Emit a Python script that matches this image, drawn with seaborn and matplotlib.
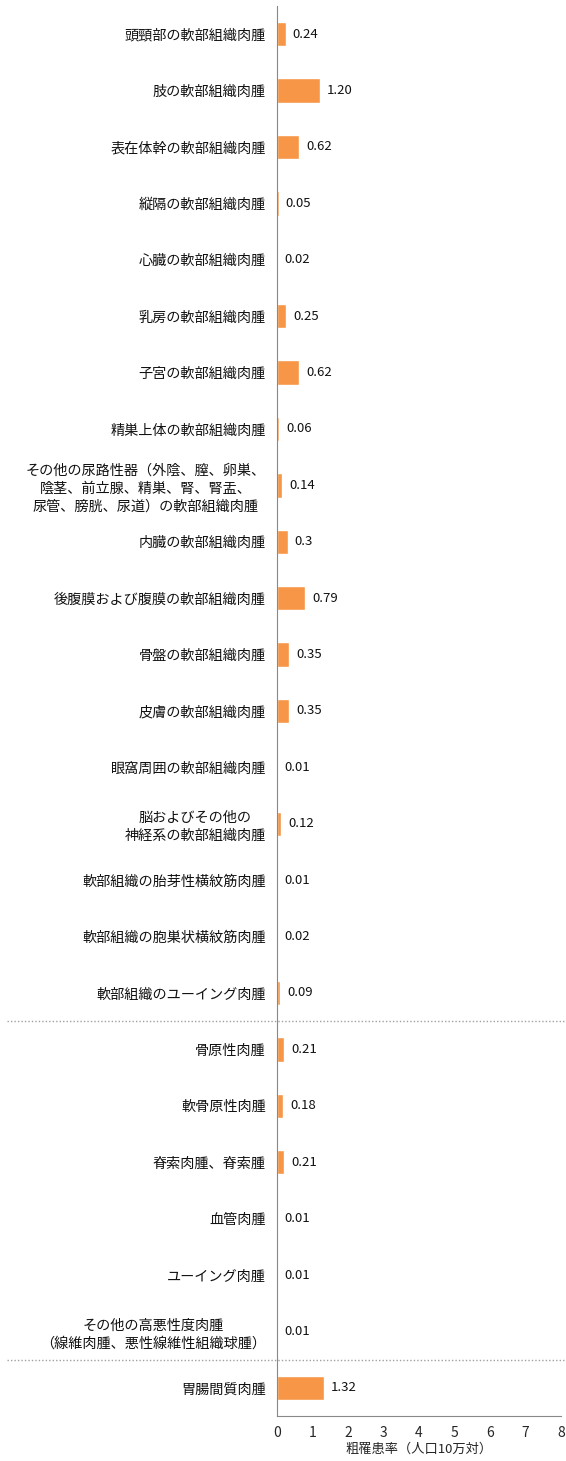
import numpy as np
import pandas as pd
import matplotlib
matplotlib.use('Agg')
import matplotlib.pyplot as plt
import seaborn as sns

categories = [
    '頭頸部の軟部組織肉腫',
    '肢の軟部組織肉腫',
    '表在体幹の軟部組織肉腫',
    '縦隔の軟部組織肉腫',
    '心臓の軟部組織肉腫',
    '乳房の軟部組織肉腫',
    '子宮の軟部組織肉腫',
    '精巣上体の軟部組織肉腫',
    'その他の尿路性器（外陰、膣、卵巣、\n陰茎、前立腺、精巣、腎、腎盂、\n尿管、膀胱、尿道）の軟部組織肉腫',
    '内臓の軟部組織肉腫',
    '後腹膜および腹膜の軟部組織肉腫',
    '骨盤の軟部組織肉腫',
    '皮膚の軟部組織肉腫',
    '眼窩周囲の軟部組織肉腫',
    '脳およびその他の\n神経系の軟部組織肉腫',
    '軟部組織の胎芽性横紋筋肉腫',
    '軟部組織の胞巣状横紋筋肉腫',
    '軟部組織のユーイング肉腫',
    '骨原性肉腫',
    '軟骨原性肉腫',
    '脊索肉腫、脊索腫',
    '血管肉腫',
    'ユーイング肉腫',
    'その他の高悪性度肉腫\n（線維肉腫、悪性線維性組織球腫）',
    '胃腸間質肉腫',
]
values = [0.24, 1.20, 0.62, 0.05, 0.02, 0.25, 0.62, 0.06, 0.14, 0.3, 0.79, 0.35,
          0.35, 0.01, 0.12, 0.01, 0.02, 0.09, 0.21, 0.18, 0.21, 0.01, 0.01, 0.01, 1.32]
value_labels = ['0.24', '1.20', '0.62', '0.05', '0.02', '0.25', '0.62', '0.06', '0.14',
                '0.3', '0.79', '0.35', '0.35', '0.01', '0.12', '0.01', '0.02', '0.09',
                '0.21', '0.18', '0.21', '0.01', '0.01', '0.01', '1.32']
# group boundaries (index after which a dotted separator is drawn)
separators_after = [17, 23]
xticks = [0, 1, 2, 3, 4, 5, 6, 7, 8]
xlabel = '粗罹患率（人口10万対）'

df = pd.DataFrame({'category': categories, 'value': values})

sns.set_style('white')
plt.rcParams['font.family'] = ['Noto Sans CJK JP', 'DejaVu Sans']

fig = plt.figure(figsize=(5.66, 14.61), dpi=100)
ax = fig.add_axes([0.4894, 0.0308, 0.5016, 0.9651])

sns.barplot(data=df, y='category', x='value', orient='h', color='#F79646',
            saturation=1, width=0.43, ax=ax)

for i, (v, lab) in enumerate(zip(values, value_labels)):
    ax.text(v + 0.2, i, lab, va='center', ha='left', fontsize=9.5, color='#111111')

for s in separators_after:
    ax.plot([-7.6, 8.2], [s + 0.5, s + 0.5], ls=(0, (1, 1.5)), color='#a0a0a0',
            lw=1, clip_on=False)

ax.set_xlim(0, 8)
ax.set_ylim(len(categories) - 0.5, -0.5)
ax.set_xticks(xticks)
ax.set_xticklabels([str(t) for t in xticks], fontsize=10)
ax.set_xlabel(xlabel, fontsize=9.5, labelpad=2)
ax.set_ylabel('')
ax.tick_params(axis='y', length=0, labelsize=10.2, pad=8, labelcolor='#111111')
ax.tick_params(axis='x', length=4, width=0.8, color='#888888', direction='out', pad=3)
for lab in ax.get_yticklabels():
    lab.set_multialignment('center')
    lab.set_linespacing(1.35)

for side in ['top', 'right']:
    ax.spines[side].set_visible(False)
for side in ['left', 'bottom']:
    ax.spines[side].set_color('#888888')
    ax.spines[side].set_linewidth(0.8)

fig.savefig('out.png', dpi=100)
